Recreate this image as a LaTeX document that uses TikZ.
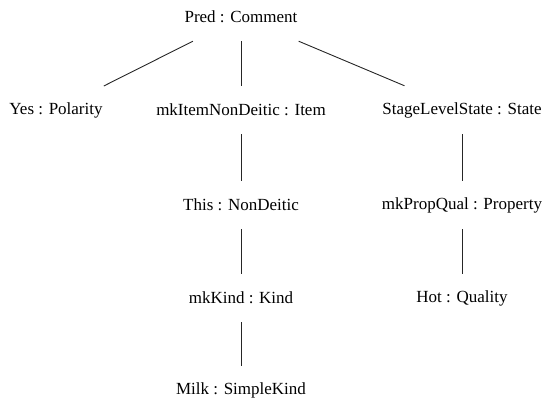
\documentclass[tikz,border=0pt]{standalone}
\usepackage{fontspec}
\setmainfont{Liberation Serif}
\begin{document}
\begin{tikzpicture}[x=1pt,y=-1pt,
  lbl/.style={inner xsep=1pt,inner ysep=0pt,minimum height=48pt,font=\fontsize{17}{20}\selectfont,anchor=center},
  edge/.style={draw=black!85,line width=0.9pt}]
\useasboundingbox (0,0) rectangle (548,403);
\node[lbl] (pred) at (241,17) {Pred : Comment};
\node[lbl] (yes) at (56,110) {Yes : Polarity};
\node[lbl] (item) at (241,110) {mkItemNonDeitic : Item};
\node[lbl] (stage) at (462,110) {StageLevelState : State};
\node[lbl] (this) at (241,205) {This : NonDeitic};
\node[lbl] (prop) at (462,205) {mkPropQual : Property};
\node[lbl] (kind) at (241,298) {mkKind : Kind};
\node[lbl] (hot) at (462,298) {Hot : Quality};
\node[lbl] (milk) at (241,390) {Milk : SimpleKind};
\draw[edge] (pred) -- (yes);
\draw[edge] (pred) -- (item);
\draw[edge] (pred) -- (stage);
\draw[edge] (item) -- (this);
\draw[edge] (this) -- (kind);
\draw[edge] (kind) -- (milk);
\draw[edge] (stage) -- (prop);
\draw[edge] (prop) -- (hot);
\end{tikzpicture}
\end{document}
